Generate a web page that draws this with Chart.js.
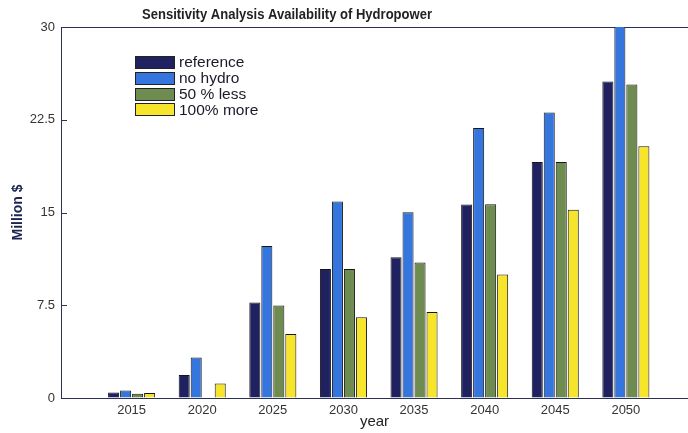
<!DOCTYPE html>
<html><head><meta charset="utf-8">
<script src="https://cdn.jsdelivr.net/npm/chart.js@4/dist/chart.umd.min.js"></script>
<style>
html,body{margin:0;padding:0;background:#fff;overflow:hidden}
#wrap{position:relative;width:688px;height:433px}
#legend{position:absolute;left:135px;top:54.3px;font-family:"Liberation Sans",Arial,sans-serif;font-size:15.5px;color:#1a1a2a}
.item{height:15.9px;display:flex;align-items:center;white-space:nowrap}
.box{width:38px;height:11px;border:1px solid #222;margin-right:4px;box-sizing:content-box}
</style></head><body>
<div id="wrap"><canvas id="c" width="688" height="433"></canvas><div id="legend"></div></div>
<script>
const titleText = 'Sensitivity Analysis Availability of Hydropower';
const years = [2015, 2020, 2025, 2030, 2035, 2040, 2045, 2050];
const seriesNames = ['reference', 'no hydro', '50 % less', '100% more'];
const reference   = [0.45, 1.86, 7.73, 10.44, 11.38, 15.64, 19.09, 25.6];
const noHydro     = [0.6, 3.28, 12.3, 15.88, 15.02, 21.84, 23.08, 30.5];
const fiftyLess   = [0.35, 0, 7.47, 10.44, 10.95, 15.66, 19.09, 25.35];
const hundredMore = [0.4, 1.18, 5.18, 6.52, 6.96, 9.98, 15.23, 20.36];
const yTicks = [0, 7.5, 15, 22.5, 30];
const colors = ['#1f2160', '#3476de', '#6e8c4f', '#f6e52b'];
const axisColor = '#2b3152';
const FONT = '"Liberation Sans", Arial, Helvetica, sans-serif';

const seriesValues = [reference, noHydro, fiftyLess, hundredMore];
const datasets = seriesNames.map((n, i) => ({
  label: n, data: seriesValues[i], backgroundColor: colors[i],
  borderColor: '#161616', borderWidth: 1,
  categoryPercentage: 0.68, barPercentage: 0.92
}));

const extras = {
  id: 'extras',
  afterDraw(chart) {
    const ctx = chart.ctx, ys = chart.scales.y, a = chart.chartArea;
    ctx.save();
    ctx.strokeStyle = axisColor; ctx.lineWidth = 1;
    yTicks.forEach(v => {
      const p = Math.round(ys.getPixelForValue(v)) + 0.5;
      ctx.beginPath(); ctx.moveTo(a.left, p); ctx.lineTo(a.left + 6, p); ctx.stroke();
    });
    ctx.font = 'bold 14.5px ' + FONT;
    ctx.fillStyle = '#222';
    ctx.textAlign = 'center'; ctx.textBaseline = 'middle';
    ctx.fillText(titleText, 287, 14.5, 290);
    ctx.restore();
  }
};

const chart = new Chart(document.getElementById('c'), {
  type: 'bar',
  data: { labels: years, datasets },
  options: {
    responsive: false, animation: false, devicePixelRatio: 1,
    layout: { padding: { top: 27, right: 0, left: 0, bottom: 0 } },
    plugins: { legend: { display: false }, title: { display: false }, tooltip: { enabled: false } },
    scales: {
      x: {
        type: 'linear', min: 2010, max: 2054.4, offset: false,
        afterBuildTicks: s => { s.ticks = years.map(v => ({ value: v })); },
        afterFit: s => { s.height = 35; },
        grid: { display: false, drawTicks: false, offset: false },
        border: { display: true, color: axisColor, width: 1 },
        ticks: { color: '#333', font: { family: FONT, size: 13 }, padding: 5, callback: v => String(v), maxRotation: 0 },
        title: { display: true, text: 'year', color: '#222', font: { family: FONT, size: 15 }, padding: { top: 0, bottom: 2 } }
      },
      y: {
        min: 0, max: 30,
        afterBuildTicks: s => { s.ticks = yTicks.map(v => ({ value: v })); },
        afterFit: s => { s.width = 61; },
        grid: { drawTicks: false, color: c => (c.tick && c.tick.value === 30) ? axisColor : 'rgba(0,0,0,0)' },
        border: { display: true, color: axisColor, width: 1 },
        ticks: { color: '#333', font: { family: FONT, size: 13 }, padding: 6, callback: v => String(v) },
        title: { display: true, text: 'Million $', color: '#1e2550', font: { family: FONT, size: 14, weight: 'bold' }, padding: { top: 10, bottom: 0 } }
      }
    }
  },
  plugins: [extras]
});

const leg = document.getElementById('legend');
datasets.forEach(d => {
  const it = document.createElement('div'); it.className = 'item';
  const b = document.createElement('span'); b.className = 'box'; b.style.background = d.backgroundColor;
  const t = document.createElement('span'); t.textContent = d.label;
  it.appendChild(b); it.appendChild(t); leg.appendChild(it);
});
</script>
</body></html>
